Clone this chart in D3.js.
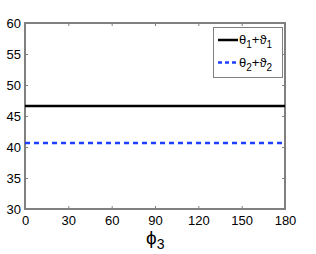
<!DOCTYPE html>
<html>
<head>
<meta charset="utf-8">
<script src="https://cdn.jsdelivr.net/npm/d3@7"></script>
<style>
  body { margin: 0; background: #fff; }
  svg { display: block; font-family: "Liberation Sans", Arial, sans-serif; }
</style>
</head>
<body>
<div id="chart"></div>
<script>
// ===== data =====
const phi3 = [0, 180];
const theta1 = [46.6, 46.6];
const theta2 = [40.65, 40.65];
const xTicks = [0, 30, 60, 90, 120, 150, 180];
const yTicks = [30, 35, 40, 45, 50, 55, 60];

const W = 316, H = 254;
const margin = { top: 23, right: 31, bottom: 45, left: 25 };
const width = W - margin.left - margin.right;
const height = H - margin.top - margin.bottom;

const svg = d3.select('#chart').append('svg')
    .attr('width', W)
    .attr('height', H);

const plot = svg.append('g')
    .attr('transform', `translate(${margin.left}, ${margin.top})`);

const x = d3.scaleLinear().domain([0, 180]).range([0, width]);
const y = d3.scaleLinear().domain([30, 60]).range([height, 0]);

const axisCol = '#808080';

// bottom / left axes with inward ticks
const xAxis = d3.axisBottom(x).tickValues(xTicks).tickSizeInner(-3).tickSizeOuter(0).tickPadding(7);
const yAxis = d3.axisLeft(y).tickValues(yTicks).tickSizeInner(-3).tickSizeOuter(0).tickPadding(4);

function styleAxis(g) {
    g.selectAll('line').attr('stroke', axisCol);
    g.select('.domain').remove();
    g.selectAll('text')
        .attr('fill', '#000')
        .attr('font-size', '13px');
}

plot.append('g')
    .attr('transform', `translate(0, ${height})`)
    .call(xAxis)
    .call(styleAxis);

plot.append('g')
    .call(yAxis)
    .call(styleAxis);

// top / right mirrored ticks
plot.append('g')
    .call(d3.axisTop(x).tickValues(xTicks).tickSizeInner(-3).tickSizeOuter(0).tickFormat(''))
    .call(styleAxis);
plot.append('g')
    .attr('transform', `translate(${width}, 0)`)
    .call(d3.axisRight(y).tickValues(yTicks).tickSizeInner(-3).tickSizeOuter(0).tickFormat(''))
    .call(styleAxis);

// box
plot.append('rect')
    .attr('x', 0).attr('y', 0)
    .attr('width', width).attr('height', height)
    .attr('fill', 'none')
    .attr('stroke', axisCol)
    .attr('stroke-width', 1.2)
    .attr('shape-rendering', 'crispEdges');

// series
const series = [
    { name: 1, values: theta1, colour: '#000000', dash: null },
    { name: 2, values: theta2, colour: '#1f3fff', dash: '5,4' }
];

const line = d3.line()
    .x((d, i) => x(phi3[i]))
    .y(d => y(d));

plot.selectAll('.series')
    .data(series)
    .enter()
    .append('path')
    .attr('class', 'series')
    .attr('d', d => line(d.values))
    .attr('fill', 'none')
    .attr('stroke', d => d.colour)
    .attr('stroke-width', 2.5)
    .attr('stroke-dasharray', d => d.dash);

// legend
const lg = plot.append('g')
    .attr('transform', `translate(${width - 72}, 4)`);

lg.append('rect')
    .attr('x', 0).attr('y', 0)
    .attr('width', 69).attr('height', 50)
    .attr('fill', '#fff')
    .attr('stroke', axisCol)
    .attr('shape-rendering', 'crispEdges');

const items = lg.selectAll('.item')
    .data(series)
    .enter()
    .append('g')
    .attr('class', 'item')
    .attr('transform', (d, i) => `translate(0, ${13 + i * 22.5})`);

items.append('line')
    .attr('x1', 5).attr('x2', 25)
    .attr('y1', 0).attr('y2', 0)
    .attr('stroke', d => d.colour)
    .attr('stroke-width', 2.5)
    .attr('stroke-dasharray', d => d.dash ? '4,3' : null);

const t = items.append('text')
    .attr('x', 26)
    .attr('y', 4)
    .attr('font-size', '13px')
    .attr('fill', '#000');
t.append('tspan').text('θ');
t.append('tspan').attr('dy', 4).attr('font-size', '10px').text(d => d.name);
t.append('tspan').attr('dy', -4).text('+ϑ');
t.append('tspan').attr('dy', 4).attr('font-size', '10px').text(d => d.name);

// x label
const xl = svg.append('text')
    .attr('x', margin.left + width / 2 - 9)
    .attr('y', 244)
    .attr('font-size', '19px')
    .attr('fill', '#000');
xl.append('tspan').text('ϕ');
xl.append('tspan').attr('dy', 5).attr('font-size', '14px').text('3');
</script>
</body>
</html>
